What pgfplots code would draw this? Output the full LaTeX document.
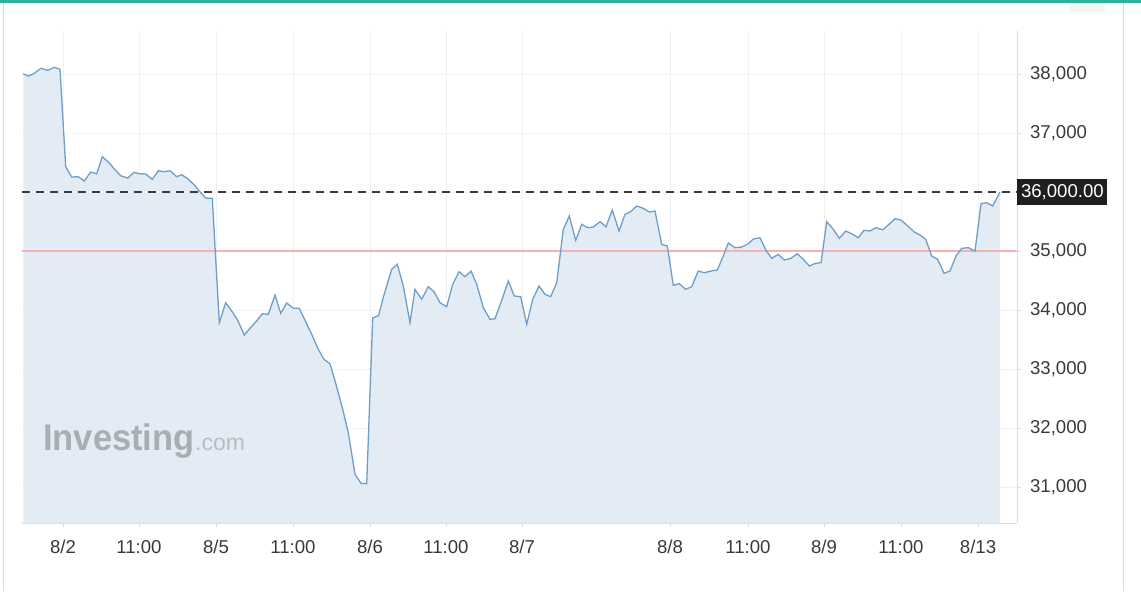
\documentclass[border=0pt]{standalone}
\usepackage{fontspec}
\setmainfont{Liberation Sans}
\usepackage{pgfplots}
\pgfplotsset{compat=1.18}
\definecolor{fillc}{HTML}{E3ECF4}
\definecolor{linec}{HTML}{6F9FC8}
\definecolor{gridc}{HTML}{EFF1F3}
\definecolor{axc}{HTML}{DCDCDC}
\definecolor{topbar}{HTML}{2BB39B}
\definecolor{labc}{HTML}{3A3A3A}
\definecolor{redl}{HTML}{F4B2B2}
\definecolor{wmark}{HTML}{A9AEB3}
\definecolor{wmark2}{HTML}{B9BDC1}
\begin{document}
\begin{tikzpicture}
\fill[white] (0,0) rectangle (570.5pt,295.5pt);
\fill[topbar] (0,294pt) rectangle (570.5pt,295.5pt);
\draw[axc, line width=0.5pt] (1.5pt,0) -- (1.5pt,294pt);
\draw[axc, line width=0.5pt] (561.5pt,0) -- (561.5pt,294pt);
\fill[black!4] (535pt,289.5pt) rectangle (552.5pt,294pt);
\begin{axis}[
  at={(11pt,34pt)}, anchor=south west,
  scale only axis, width=497.5pt, height=246pt,
  xmin=22, xmax=1017, ymin=30390, ymax=38729,
  scaled y ticks=false, scaled x ticks=false,
  axis x line*=bottom, axis y line*=right,
  axis line style={axc, line width=0.5pt},
  tick align=outside, major tick length=2pt,
  tick style={axc, line width=0.5pt},
  xtick={63,139,216,293,370,446,522,670,748,824,901,978},
  xticklabels={8/2,11:00,8/5,11:00,8/6,11:00,8/7,8/8,11:00,8/9,11:00,8/13},
  ytick={31000,32000,33000,34000,35000,36000,37000,38000},
  yticklabels={{31,000},{32,000},{33,000},{34,000},{35,000},{},{37,000},{38,000}},
  xmajorgrids, ymajorgrids,
  major grid style={gridc, line width=0.5pt},
  ticklabel style={font=\fontsize{9.3}{11}\selectfont, text=labc},
  xticklabel style={yshift=-3pt},
  yticklabel style={anchor=west, xshift=1pt},
]
\addplot[draw=none, fill=fillc] coordinates {
(23.3,38005)(28.3,37966)(33.3,38000)(41,38097)(47.7,38063)(54.3,38114)(60,38080)(65.7,36429)
(71.7,36254)(78.3,36259)(84.3,36186)(90.7,36339)(96.7,36310)(102.3,36598)(109,36497)(115,36378)
(120.7,36276)(127.7,36237)(134,36334)(139.3,36310)(145.7,36305)(152.3,36215)(158.3,36361)(164.3,36344)
(170,36361)(176.7,36259)(181.7,36293)(187.7,36225)(194.3,36119)(200,36005)(205.7,35898)(212.3,35893)
(219.3,33785)(225.7,34124)(231.7,33983)(237.7,33826)(244.3,33576)(250,33690)(256,33802)(262.3,33937)
(268.3,33927)(275,34254)(280.7,33944)(286.7,34119)(293.3,34029)(299.3,34029)(305,33826)(311.7,33588)
(318.3,33334)(324,33164)(330,33090)(336,32741)(342.3,32344)(348.3,31920)(355,31215)(361,31063)
(366.7,31056)(372.7,33864)(378.7,33907)(382.7,34181)(391.7,34690)(397.3,34775)(403.3,34407)(410,33785)
(415,34351)(421.7,34181)(428.3,34395)(434,34310)(440,34124)(446.7,34056)(452.7,34436)(459,34649)
(465,34564)(471,34661)(476.7,34436)(483.3,34039)(490,33842)(495,33853)(501.5,34153)(508.3,34492)
(514.3,34237)(520.7,34226)(526.7,33758)(532.7,34181)(539,34407)(545,34266)(550.7,34226)(556.7,34463)
(563.3,35368)(569.3,35593)(575.7,35181)(581.7,35453)(587.7,35395)(593.3,35407)(600,35497)(606,35412)
(612.3,35695)(619,35339)(625,35622)(630.7,35666)(636.7,35763)(643.3,35724)(649.3,35661)(655,35678)
(661.7,35114)(667.3,35085)(673.3,34419)(679.3,34446)(685.7,34351)(691.7,34395)(698.3,34661)(704.3,34632)
(711,34661)(717.3,34678)(723.3,34915)(728.3,35136)(735,35056)(741.7,35068)(748.3,35124)(753.3,35203)
(760,35225)(766,35012)(771.7,34876)(778.3,34944)(784.3,34847)(791,34876)(797.3,34954)(803.3,34859)
(809.3,34746)(815.7,34792)(821,34802)(826.7,35497)(833.3,35368)(839.3,35215)(845.7,35339)(851.7,35293)
(858.3,35225)(864,35351)(870,35339)(876,35395)(882.7,35361)(888.3,35441)(895,35548)(901,35525)
(907.7,35424)(914.3,35322)(920,35271)(925.7,35198)(931.7,34915)(937.7,34859)(944,34622)(950,34661)
(956,34915)(961.7,35046)(968.3,35056)(975,35000)(981,35802)(986.7,35819)(992.7,35763)(1000,36000)
} \closedcycle;
\addplot[draw=redl, line width=0.6pt] coordinates {(22,35000)(1017,35000)};
\addplot[draw=linec, line width=0.65pt] coordinates {
(23.3,38005)(28.3,37966)(33.3,38000)(41,38097)(47.7,38063)(54.3,38114)(60,38080)(65.7,36429)
(71.7,36254)(78.3,36259)(84.3,36186)(90.7,36339)(96.7,36310)(102.3,36598)(109,36497)(115,36378)
(120.7,36276)(127.7,36237)(134,36334)(139.3,36310)(145.7,36305)(152.3,36215)(158.3,36361)(164.3,36344)
(170,36361)(176.7,36259)(181.7,36293)(187.7,36225)(194.3,36119)(200,36005)(205.7,35898)(212.3,35893)
(219.3,33785)(225.7,34124)(231.7,33983)(237.7,33826)(244.3,33576)(250,33690)(256,33802)(262.3,33937)
(268.3,33927)(275,34254)(280.7,33944)(286.7,34119)(293.3,34029)(299.3,34029)(305,33826)(311.7,33588)
(318.3,33334)(324,33164)(330,33090)(336,32741)(342.3,32344)(348.3,31920)(355,31215)(361,31063)
(366.7,31056)(372.7,33864)(378.7,33907)(382.7,34181)(391.7,34690)(397.3,34775)(403.3,34407)(410,33785)
(415,34351)(421.7,34181)(428.3,34395)(434,34310)(440,34124)(446.7,34056)(452.7,34436)(459,34649)
(465,34564)(471,34661)(476.7,34436)(483.3,34039)(490,33842)(495,33853)(501.5,34153)(508.3,34492)
(514.3,34237)(520.7,34226)(526.7,33758)(532.7,34181)(539,34407)(545,34266)(550.7,34226)(556.7,34463)
(563.3,35368)(569.3,35593)(575.7,35181)(581.7,35453)(587.7,35395)(593.3,35407)(600,35497)(606,35412)
(612.3,35695)(619,35339)(625,35622)(630.7,35666)(636.7,35763)(643.3,35724)(649.3,35661)(655,35678)
(661.7,35114)(667.3,35085)(673.3,34419)(679.3,34446)(685.7,34351)(691.7,34395)(698.3,34661)(704.3,34632)
(711,34661)(717.3,34678)(723.3,34915)(728.3,35136)(735,35056)(741.7,35068)(748.3,35124)(753.3,35203)
(760,35225)(766,35012)(771.7,34876)(778.3,34944)(784.3,34847)(791,34876)(797.3,34954)(803.3,34859)
(809.3,34746)(815.7,34792)(821,34802)(826.7,35497)(833.3,35368)(839.3,35215)(845.7,35339)(851.7,35293)
(858.3,35225)(864,35351)(870,35339)(876,35395)(882.7,35361)(888.3,35441)(895,35548)(901,35525)
(907.7,35424)(914.3,35322)(920,35271)(925.7,35198)(931.7,34915)(937.7,34859)(944,34622)(950,34661)
(956,34915)(961.7,35046)(968.3,35056)(975,35000)(981,35802)(986.7,35819)(992.7,35763)(1000,36000)
};
\addplot[draw=labc, line width=0.6pt, dash pattern=on 4pt off 3pt] coordinates {(22,36000)(1017,36000)};
\coordinate (lab) at (axis cs:1017,36000);
\end{axis}
\node[fill=black!88, text=white, anchor=west, inner xsep=1.8pt, inner ysep=0pt, minimum height=13pt,
  font=\fontsize{9.3}{11}\selectfont] at (lab) {36,000.00};
\node[anchor=base west, inner sep=0pt, text=wmark, font=\bfseries\fontsize{18.5}{20}\selectfont, xscale=0.93]
  (wm) at (21.5pt,70.5pt) {Investing};
\node[anchor=base west, inner sep=0pt, text=wmark2, font=\fontsize{11.5}{13}\selectfont]
  at (wm.base east) {.com};
\end{tikzpicture}
\end{document}
